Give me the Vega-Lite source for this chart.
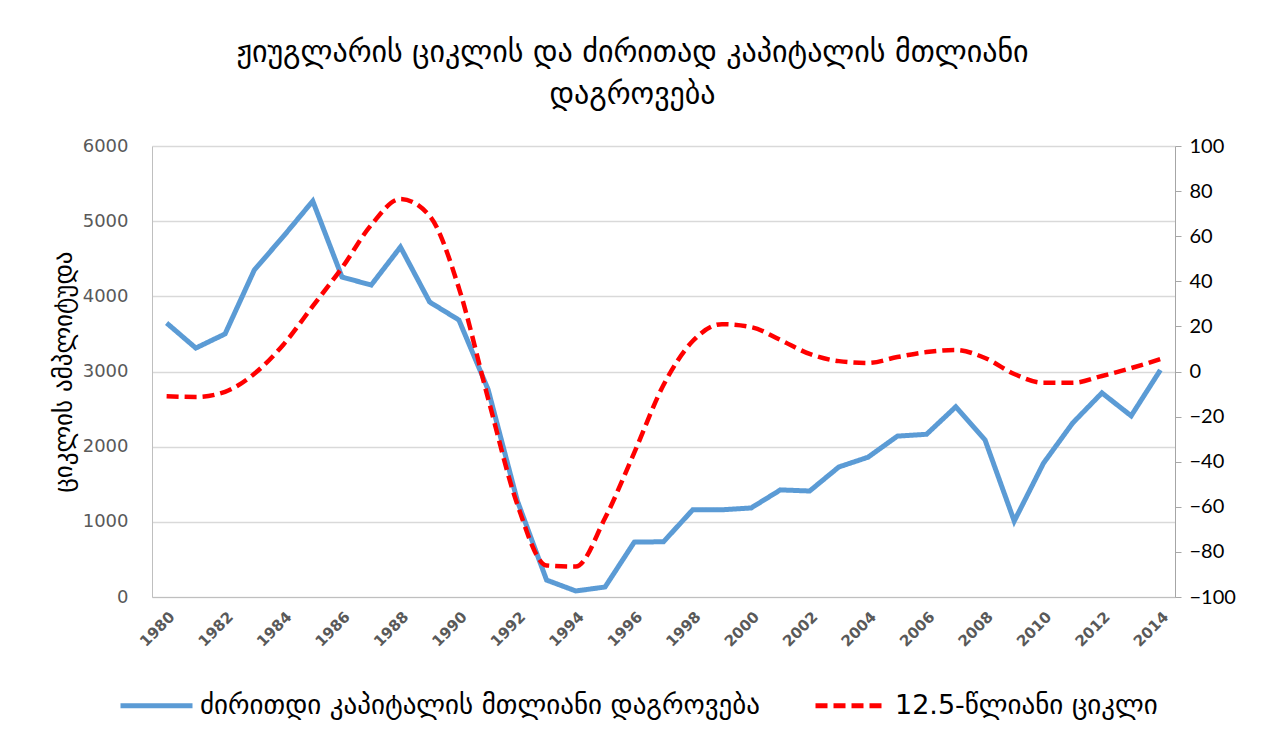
{
  "$schema": "https://vega.github.io/schema/vega-lite/v6.json",
  "autosize": {"type": "none"},
  "width": 1023,
  "height": 451,
  "padding": {"left": 152, "top": 146, "right": 89, "bottom": 144},
  "background": "white",
  "title": {
    "text": ["ჟიუგლარის ციკლის და ძირითად კაპიტალის მთლიანი", "დაგროვება"],
    "font": "DejaVu Sans",
    "fontSize": 30,
    "fontWeight": "normal",
    "color": "#000000",
    "lineHeight": 42,
    "anchor": "middle",
    "dx": -31,
    "offset": 26
  },
  "data": {
    "values": [
      {"year": 1980, "series": "capital", "value": 3645},
      {"year": 1981, "series": "capital", "value": 3312},
      {"year": 1982, "series": "capital", "value": 3500},
      {"year": 1983, "series": "capital", "value": 4350},
      {"year": 1984, "series": "capital", "value": 4800},
      {"year": 1985, "series": "capital", "value": 5268},
      {"year": 1986, "series": "capital", "value": 4257},
      {"year": 1987, "series": "capital", "value": 4150},
      {"year": 1988, "series": "capital", "value": 4656},
      {"year": 1989, "series": "capital", "value": 3924},
      {"year": 1990, "series": "capital", "value": 3685},
      {"year": 1991, "series": "capital", "value": 2760},
      {"year": 1992, "series": "capital", "value": 1280},
      {"year": 1993, "series": "capital", "value": 225},
      {"year": 1994, "series": "capital", "value": 80},
      {"year": 1995, "series": "capital", "value": 133},
      {"year": 1996, "series": "capital", "value": 730},
      {"year": 1997, "series": "capital", "value": 735},
      {"year": 1998, "series": "capital", "value": 1160},
      {"year": 1999, "series": "capital", "value": 1160},
      {"year": 2000, "series": "capital", "value": 1185},
      {"year": 2001, "series": "capital", "value": 1425},
      {"year": 2002, "series": "capital", "value": 1410},
      {"year": 2003, "series": "capital", "value": 1730},
      {"year": 2004, "series": "capital", "value": 1860},
      {"year": 2005, "series": "capital", "value": 2140},
      {"year": 2006, "series": "capital", "value": 2165},
      {"year": 2007, "series": "capital", "value": 2530},
      {"year": 2008, "series": "capital", "value": 2090},
      {"year": 2009, "series": "capital", "value": 1010},
      {"year": 2010, "series": "capital", "value": 1780},
      {"year": 2011, "series": "capital", "value": 2315},
      {"year": 2012, "series": "capital", "value": 2715},
      {"year": 2013, "series": "capital", "value": 2410},
      {"year": 2014, "series": "capital", "value": 3020},
      {"year": 1980, "series": "cycle", "value": -11},
      {"year": 1981, "series": "cycle", "value": -11.3},
      {"year": 1982, "series": "cycle", "value": -9},
      {"year": 1983, "series": "cycle", "value": -1},
      {"year": 1984, "series": "cycle", "value": 12},
      {"year": 1985, "series": "cycle", "value": 29},
      {"year": 1986, "series": "cycle", "value": 46},
      {"year": 1987, "series": "cycle", "value": 65},
      {"year": 1988, "series": "cycle", "value": 76.5},
      {"year": 1989, "series": "cycle", "value": 69},
      {"year": 1990, "series": "cycle", "value": 37},
      {"year": 1991, "series": "cycle", "value": -12},
      {"year": 1992, "series": "cycle", "value": -59},
      {"year": 1993, "series": "cycle", "value": -86},
      {"year": 1994, "series": "cycle", "value": -86.5},
      {"year": 1995, "series": "cycle", "value": -65},
      {"year": 1996, "series": "cycle", "value": -36},
      {"year": 1997, "series": "cycle", "value": -6},
      {"year": 1998, "series": "cycle", "value": 13.5},
      {"year": 1999, "series": "cycle", "value": 21},
      {"year": 2000, "series": "cycle", "value": 19.7},
      {"year": 2001, "series": "cycle", "value": 14},
      {"year": 2002, "series": "cycle", "value": 7.8},
      {"year": 2003, "series": "cycle", "value": 4.6},
      {"year": 2004, "series": "cycle", "value": 3.8},
      {"year": 2005, "series": "cycle", "value": 6.4},
      {"year": 2006, "series": "cycle", "value": 8.6},
      {"year": 2007, "series": "cycle", "value": 9.5},
      {"year": 2008, "series": "cycle", "value": 6},
      {"year": 2009, "series": "cycle", "value": -1.1},
      {"year": 2010, "series": "cycle", "value": -5},
      {"year": 2011, "series": "cycle", "value": -5},
      {"year": 2012, "series": "cycle", "value": -2},
      {"year": 2013, "series": "cycle", "value": 1.5},
      {"year": 2014, "series": "cycle", "value": 5.5}
    ]
  },
  "encoding": {
    "x": {
      "field": "year",
      "type": "ordinal",
      "scale": {"type": "point", "padding": 0.5},
      "axis": {
        "title": null,
        "values": [1980, 1982, 1984, 1986, 1988, 1990, 1992, 1994, 1996, 1998, 2000, 2002, 2004, 2006, 2008, 2010, 2012, 2014],
        "labelAngle": -45,
        "labelFont": "DejaVu Sans",
        "labelFontSize": 15,
        "labelFontWeight": "bold",
        "labelColor": "#595959",
        "labelPadding": 12,
        "ticks": false,
        "domain": true,
        "domainColor": "#bfbfbf",
        "grid": false
      }
    },
    "color": {
      "field": "series",
      "type": "nominal",
      "scale": {"domain": ["capital", "cycle"], "range": ["#5b9bd5", "#ff0000"]},
      "legend": {
        "title": null,
        "orient": "none",
        "legendX": -34,
        "legendY": 521,
        "direction": "horizontal",
        "symbolType": "stroke",
        "symbolSize": 5184,
        "symbolStrokeWidth": 5,
        "labelFont": "DejaVu Sans",
        "labelFontSize": 27,
        "labelColor": "#000000",
        "labelLimit": 800,
        "labelOffset": 5,
        "columnPadding": 44,
        "labelExpr": "datum.value == 'capital' ? 'ძირითდი კაპიტალის მთლიანი დაგროვება' : '12.5-წლიანი ციკლი'"
      }
    },
    "strokeDash": {
      "field": "series",
      "type": "nominal",
      "scale": {"domain": ["capital", "cycle"], "range": [[1, 0], [12, 6]]},
      "legend": {
        "title": null,
        "orient": "none",
        "legendX": -34,
        "legendY": 521,
        "direction": "horizontal",
        "symbolType": "stroke",
        "symbolSize": 5184,
        "symbolStrokeWidth": 5,
        "labelFont": "DejaVu Sans",
        "labelFontSize": 27,
        "labelColor": "#000000",
        "labelLimit": 800,
        "labelOffset": 5,
        "columnPadding": 44,
        "labelExpr": "datum.value == 'capital' ? 'ძირითდი კაპიტალის მთლიანი დაგროვება' : '12.5-წლიანი ციკლი'"
      }
    }
  },
  "layer": [
    {
      "transform": [{"filter": "datum.series == 'capital'"}],
      "mark": {"type": "line", "strokeWidth": 5, "strokeJoin": "miter"},
      "encoding": {
        "y": {
          "field": "value",
          "type": "quantitative",
          "scale": {"domain": [0, 6000], "nice": false},
          "axis": {
            "title": "ციკლის  ამპლიტუდა",
            "titleFont": "DejaVu Sans",
            "titleFontSize": 25,
            "titleFontWeight": "normal",
            "titleColor": "#000000",
            "titlePadding": 6,
            "values": [0, 1000, 2000, 3000, 4000, 5000, 6000],
            "format": "d",
            "labelFont": "DejaVu Sans",
            "labelFontSize": 18,
            "labelColor": "#595959",
            "labelPadding": 24,
            "ticks": false,
            "domain": true,
            "domainColor": "#bfbfbf",
            "grid": true,
            "gridColor": "#d9d9d9",
            "gridWidth": 1.5
          }
        }
      }
    },
    {
      "transform": [{"filter": "datum.series == 'cycle'"}],
      "mark": {"type": "line", "strokeWidth": 4.5, "interpolate": "monotone"},
      "encoding": {
        "y": {
          "field": "value",
          "type": "quantitative",
          "scale": {"domain": [-100, 100], "nice": false},
          "axis": {
            "orient": "right",
            "title": null,
            "values": [-100, -80, -60, -40, -20, 0, 20, 40, 60, 80, 100],
            "labelFont": "Lato",
            "labelFontSize": 20,
            "labelColor": "#000000",
            "labelPadding": 8,
            "ticks": true,
            "tickSize": 6,
            "tickColor": "#a6a6a6",
            "domain": true,
            "domainColor": "#a6a6a6",
            "grid": false
          }
        }
      }
    }
  ],
  "resolve": {"scale": {"y": "independent"}},
  "config": {"view": {"stroke": null}}
}
